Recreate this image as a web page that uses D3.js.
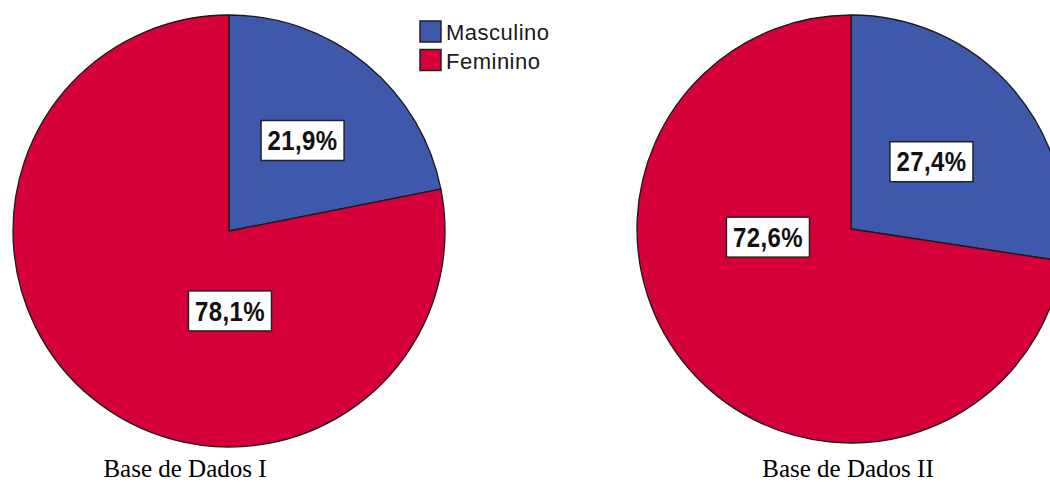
<!DOCTYPE html>
<html>
<head>
<meta charset="utf-8">
<script src="https://cdn.jsdelivr.net/npm/d3@7/dist/d3.min.js"></script>
<style>
  html, body { margin: 0; padding: 0; background: #fff; }
  svg { display: block; }
</style>
</head>
<body>
<svg id="chart" width="1050" height="482"></svg>
<script>
// Sex distribution in two databases
const categories = ["Masculino", "Feminino"];
const baseI = [21.9, 78.1];
const baseII = [27.4, 72.6];
const datasetTitles = ["Base de Dados I", "Base de Dados II"];

const colors = d3.scaleOrdinal().domain(categories).range(["#3e58ac", "#d5003a"]);

const svg = d3.select("#chart");

// Pie geometry and label placement (angle in degrees clockwise from 12 o'clock, radius fraction)
const pies = [
  { values: baseI,  title: datasetTitles[0], cx: 229, cy: 231, r: 216, titleX: 185,
    labelPlace: [{ a: 39.1, f: 0.54 }, { a: 179.3, f: 0.37 }] },
  { values: baseII, title: datasetTitles[1], cx: 851, cy: 229, r: 214, titleX: 848,
    labelPlace: [{ a: 50.1, f: 0.49 }, { a: 264.4, f: 0.39 }] }
];

const fmt = v => d3.format(".1f")(v).replace(".", ",") + "%";

pies.forEach(p => {
  const g = svg.append("g").attr("transform", `translate(${p.cx},${p.cy})`);
  const pie = d3.pie().sort(null).value(d => d.v);
  const arcs = pie(p.values.map((v, i) => ({ v, c: categories[i] })));
  const arc = d3.arc().innerRadius(0).outerRadius(p.r);

  g.selectAll("path.slice")
    .data(arcs)
    .enter().append("path")
    .attr("class", "slice")
    .attr("d", arc)
    .attr("fill", d => colors(d.data.c))
    .attr("stroke", "#1a1a1a")
    .attr("stroke-width", 1.3)
    .attr("stroke-linejoin", "round");

  // Value labels in white boxes
  arcs.forEach((d, i) => {
    const pl = p.labelPlace[i];
    const ang = pl.a * Math.PI / 180;
    const x = Math.sin(ang) * p.r * pl.f;
    const y = -Math.cos(ang) * p.r * pl.f;
    const lg = g.append("g").attr("transform", `translate(${x},${y})`);
    const rect = lg.append("rect");
    const t = lg.append("text")
      .attr("text-anchor", "middle")
      .attr("dominant-baseline", "central")
      .attr("font-family", "'Liberation Sans', Arial, sans-serif")
      .attr("font-weight", "bold")
      .attr("font-size", 24)
      .attr("letter-spacing", 0.4)
      .attr("fill", "#111")
      .attr("transform", "scale(1,1.15)")
      .text(fmt(d.data.v));
    const bb = t.node().getBBox();
    const w = bb.width + 13, h = 40;
    rect.attr("x", -w / 2).attr("y", -h / 2).attr("width", w).attr("height", h)
      .attr("fill", "#fff").attr("stroke", "#222").attr("stroke-width", 1.5);
  });

  svg.append("text")
    .attr("x", p.titleX)
    .attr("y", 477)
    .attr("text-anchor", "middle")
    .attr("font-family", "'Liberation Serif', 'Times New Roman', serif")
    .attr("font-size", 25)
    .attr("fill", "#000")
    .text(p.title);
});

// Legend
const legend = svg.append("g").attr("transform", "translate(420,21)");
categories.forEach((c, i) => {
  const row = legend.append("g").attr("transform", `translate(0,${i * 28.5})`);
  row.append("rect").attr("width", 21).attr("height", 21)
    .attr("fill", colors(c)).attr("stroke", "#222").attr("stroke-width", 1.5);
  row.append("text").attr("x", 26).attr("y", 11.5)
    .attr("dominant-baseline", "central")
    .attr("font-family", "'Liberation Sans', Arial, sans-serif")
    .attr("font-size", 22)
    .attr("letter-spacing", 0.5)
    .attr("fill", "#1a1a1a")
    .text(c);
});
</script>
</body>
</html>
